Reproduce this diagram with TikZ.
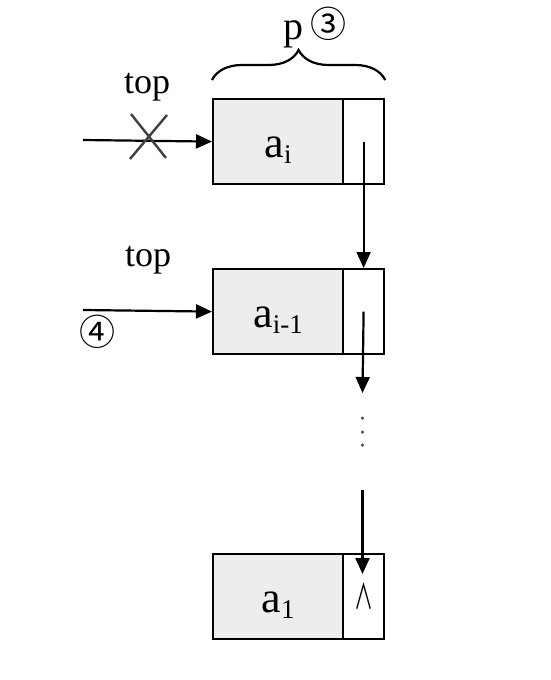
\documentclass[tikz,border=0pt]{standalone}
\usepackage{fontspec}
\setmainfont{Liberation Serif}
\newfontfamily\circfont{Noto Sans CJK SC}
\usetikzlibrary{arrows.meta,decorations.pathreplacing,calc}

\newcommand{\elem}[1]{a\raisebox{-0.14em}{\fontsize{27}{27}\selectfont #1}}

\begin{document}
\begin{tikzpicture}[x=1pt,y=-1pt,line width=2.2pt,
  datacell/.style={draw,fill=gray!14,minimum width=130pt,minimum height=85pt,
    inner sep=0pt,anchor=north west,font=\fontsize{44}{44}\selectfont,
    text height=32pt,text depth=0pt},
  linkcell/.style={draw,fill=white,minimum width=41pt,minimum height=85pt,
    inner sep=0pt,anchor=north west},
  ptr/.style={-{Triangle[length=16pt,width=14pt]}},
  lbl/.style={font=\fontsize{36}{36}\selectfont,inner sep=0pt,anchor=base},
  circ/.style={font=\circfont\fontsize{36}{36}\selectfont,inner sep=0pt},
  dot/.style={circle,fill=black!70,inner sep=0pt,minimum size=3.5pt}]
\useasboundingbox (0,0) rectangle (550,680);

% node a_i (current top)
\node[datacell] (d1) at (212,98) {\elem{i}};
\node[linkcell] (l1) at (342,98) {};
% node a_{i-1}
\node[datacell] (d2) at (212,268) {\elem{i-1}};
\node[linkcell] (l2) at (342,268) {};
% node a_1 (bottom of stack), null link
\node[datacell] (d3) at (212,553) {\elem{1}};
\node[linkcell] (l3) at (342,553) {\resizebox{19pt}{27pt}{\circfont ∧}};

% brace over the first node, labelled p (step 3)
\draw[decorate,decoration={brace,amplitude=30pt}]
  ($(d1.north west)+(0,-18)$) coordinate (bl) -- ($(l1.north east)+(0,-18)$) coordinate (br);
\node[lbl,font=\fontsize{40}{40}\selectfont] (p) at (293,39) {p};
\node[circ] (s3) at (328,24) {③};

% old top pointer, crossed out
\coordinate (t1) at (83,140);
\draw[ptr] (t1) -- (d1.west);
\node[lbl] (top1) at (147,93) {top};
\coordinate (xa) at (131,114);
\coordinate (xb) at (166,158);
\coordinate (xc) at (167,115);
\coordinate (xd) at (130,159);
\draw[black!75,line width=2.4pt] (xa) -- (xb) (xc) -- (xd);

% new top pointer (step 4)
\coordinate (t2) at (83,310);
\draw[ptr] (t2) -- (d2.west);
\node[lbl] (top2) at (148,266) {top};
\node[circ] (s4) at (97,332) {④};

% links between the nodes
\draw[ptr] (l1.center) -- (l2.north);
\coordinate (e2) at (362.5,393);
\draw[ptr] (l2.center) -- (e2);
\node[dot] (g1) at (362.5,418) {};
\node[dot] (g2) at (362.5,432) {};
\node[dot] (g3) at (362.5,445) {};
\coordinate (s5) at (362.5,490);
\coordinate (e5) at (362.5,574);
\draw[ptr] (s5) -- (e5);
\end{tikzpicture}
\end{document}
